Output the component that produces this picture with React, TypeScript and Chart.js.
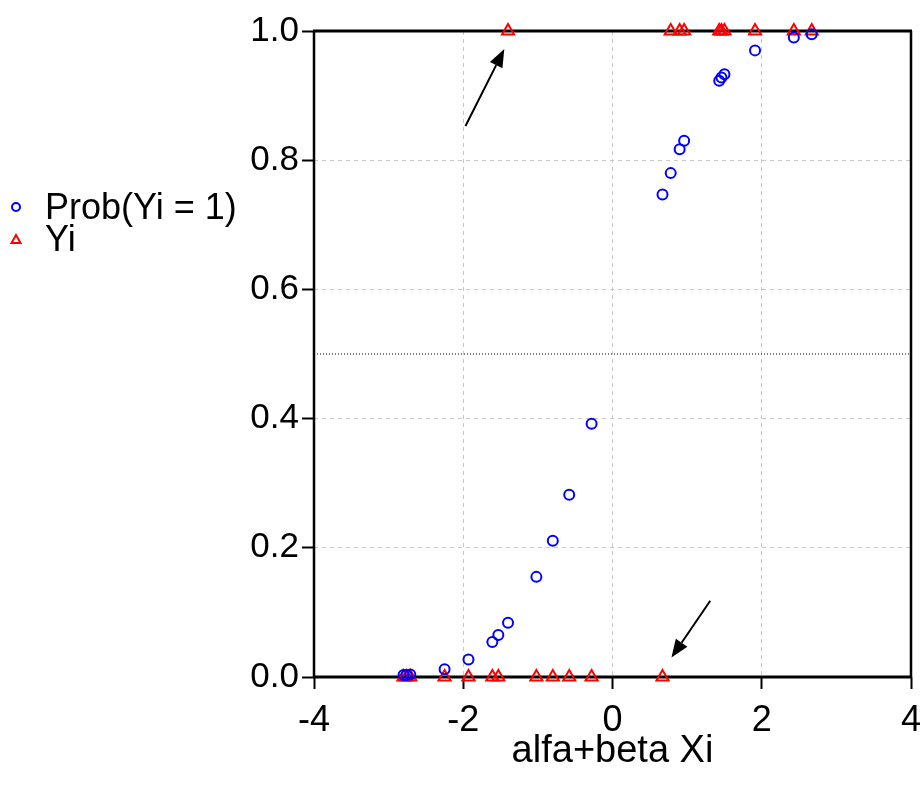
import React, { useEffect, useRef } from 'react';
import { Chart, registerables } from 'chart.js';

Chart.register(...registerables);

// index value alfa+beta Xi for each observation
const xValues = [-2.80, -2.76, -2.71, -2.25, -1.93, -1.61, -1.53, -1.40, -1.02, -0.80, -0.58, -0.28, 0.67, 0.78, 0.90, 0.96, 1.43, 1.46, 1.50, 1.91, 2.43, 2.67];
// fitted probability Prob(Yi = 1)
const probValues = [0.003, 0.003, 0.004, 0.012, 0.027, 0.054, 0.065, 0.084, 0.155, 0.211, 0.282, 0.392, 0.747, 0.780, 0.817, 0.830, 0.923, 0.928, 0.933, 0.970, 0.990, 0.995];
// observed outcome Yi
const yiValues = [0, 0, 0, 0, 0, 0, 0, 1, 0, 0, 0, 0, 0, 1, 1, 1, 1, 1, 1, 1, 1, 1];

const xTicks = [-4, -2, 0, 2, 4];
const yTicks = [0, 0.2, 0.4, 0.6, 0.8, 1.0];
const refLine = 0.5;

const seriesLabels = ['Prob(Yi = 1)', 'Yi'];
const xTitle = 'alfa+beta Xi';

// arrow annotations in data units: [tailX, tailY, tipX, tipY]
const arrowA = [-1.97, 0.853, -1.45, 0.972];
const arrowB = [1.31, 0.118, 0.79, 0.030];

const FONT = '"Liberation Sans", Arial, sans-serif';

export default function App() {
  const ref = useRef<HTMLCanvasElement | null>(null);

  useEffect(() => {
    if (!ref.current) return;

    const frame = {
      id: 'frame',
      beforeDatasetsDraw(chart: any) {
        const { ctx, chartArea: a, scales } = chart;
        ctx.save();
        // dotted reference line
        const yr = scales.y.getPixelForValue(refLine);
        ctx.strokeStyle = '#000';
        ctx.lineWidth = 1;
        ctx.setLineDash([1, 2]);
        ctx.beginPath();
        ctx.moveTo(a.left, yr);
        ctx.lineTo(a.right, yr);
        ctx.stroke();
        ctx.setLineDash([]);
        // box
        ctx.lineWidth = 3;
        ctx.beginPath();
        ctx.moveTo(a.left - 1, a.top);
        ctx.lineTo(a.right + 1, a.top);
        ctx.moveTo(a.left - 1, a.bottom);
        ctx.lineTo(a.right + 1, a.bottom);
        ctx.stroke();
        ctx.lineWidth = 2.5;
        ctx.beginPath();
        ctx.moveTo(a.left, a.top);
        ctx.lineTo(a.left, a.bottom);
        ctx.moveTo(a.right, a.top);
        ctx.lineTo(a.right, a.bottom);
        ctx.stroke();
        ctx.restore();
      },
      afterDatasetsDraw(chart: any) {
        const { ctx, scales } = chart;
        const drawArrow = (arr: number[]) => {
          const x1 = scales.x.getPixelForValue(arr[0]);
          const y1 = scales.y.getPixelForValue(arr[1]);
          const x2 = scales.x.getPixelForValue(arr[2]);
          const y2 = scales.y.getPixelForValue(arr[3]);
          const ang = Math.atan2(y2 - y1, x2 - x1);
          const hl = 18;
          const hw = 7;
          const bx = x2 - Math.cos(ang) * hl;
          const by = y2 - Math.sin(ang) * hl;
          ctx.save();
          ctx.strokeStyle = '#000';
          ctx.fillStyle = '#000';
          ctx.lineWidth = 2;
          ctx.beginPath();
          ctx.moveTo(x1, y1);
          ctx.lineTo(bx, by);
          ctx.stroke();
          ctx.beginPath();
          ctx.moveTo(x2, y2);
          ctx.lineTo(bx + Math.sin(ang) * hw, by - Math.cos(ang) * hw);
          ctx.lineTo(bx - Math.sin(ang) * hw, by + Math.cos(ang) * hw);
          ctx.closePath();
          ctx.fill();
          ctx.restore();
        };
        drawArrow(arrowA);
        drawArrow(arrowB);
      },
      afterDraw(chart: any) {
        const { ctx } = chart;
        ctx.save();
        ctx.font = `36px ${FONT}`;
        ctx.fillStyle = '#000';
        ctx.textBaseline = 'middle';
        ctx.textAlign = 'left';
        // circle symbol
        ctx.lineWidth = 2;
        ctx.strokeStyle = '#0000ff';
        ctx.beginPath();
        ctx.arc(16, 207, 4, 0, Math.PI * 2);
        ctx.stroke();
        ctx.fillText(seriesLabels[0], 45, 209);
        // triangle symbol
        ctx.strokeStyle = '#ff0000';
        ctx.beginPath();
        ctx.moveTo(16, 235);
        ctx.lineTo(20.5, 243);
        ctx.lineTo(11.5, 243);
        ctx.closePath();
        ctx.stroke();
        ctx.fillText(seriesLabels[1], 45, 241);
        ctx.restore();
      },
    };

    const chart = new Chart(ref.current, {
      type: 'scatter',
      data: {
        datasets: [
          {
            label: seriesLabels[0],
            data: xValues.map((x, i) => ({ x, y: probValues[i] })),
            pointStyle: 'circle',
            pointRadius: 5,
            borderColor: '#0000ff',
            backgroundColor: 'rgba(0,0,0,0)',
            pointBorderWidth: 2,
            clip: false as any,
          },
          {
            label: seriesLabels[1],
            data: xValues.map((x, i) => ({ x, y: yiValues[i] })),
            pointStyle: 'triangle',
            pointRadius: 7,
            borderColor: '#ff0000',
            backgroundColor: 'rgba(0,0,0,0)',
            pointBorderWidth: 2,
            clip: false as any,
          },
        ],
      },
      plugins: [frame],
      options: {
        responsive: false,
        animation: false,
        devicePixelRatio: 1,
        layout: { padding: { top: 31, right: 11, left: 0, bottom: 0 } },
        plugins: {
          legend: { display: false },
          tooltip: { enabled: false },
        },
        scales: {
          x: {
            type: 'linear',
            min: xTicks[0],
            max: xTicks[xTicks.length - 1],
            afterBuildTicks: (s: any) => { s.ticks = xTicks.map((v) => ({ value: v })); },
            afterFit: (s: any) => { s.height = 111; s.paddingLeft = 0; s.paddingRight = 0; },
            border: { display: false, dash: [4, 4] },
            grid: {
              color: (c: any) => (c.tick && (c.tick.value === xTicks[0] || c.tick.value === xTicks[xTicks.length - 1]) ? 'rgba(0,0,0,0)' : '#c8c8c8'),
              lineWidth: 1,
              tickColor: '#000',
              tickWidth: 2,
              tickLength: 12,
              tickBorderDash: [],
            },
            ticks: {
              color: '#000',
              font: { family: FONT, size: 36 },
              padding: 10,
              maxRotation: 0,
              callback: (v: any) => String(v),
            },
            title: {
              display: true,
              text: xTitle,
              color: '#000',
              font: { family: FONT, size: 38 },
              padding: { top: 0, bottom: 14 },
            },
          },
          y: {
            type: 'linear',
            min: yTicks[0],
            max: yTicks[yTicks.length - 1],
            afterBuildTicks: (s: any) => { s.ticks = yTicks.map((v) => ({ value: v })); },
            afterFit: (s: any) => { s.width = 314; },
            border: { display: false, dash: [4, 4] },
            grid: {
              color: (c: any) => (c.tick && (c.tick.value === yTicks[0] || c.tick.value === yTicks[yTicks.length - 1]) ? 'rgba(0,0,0,0)' : '#c8c8c8'),
              lineWidth: 1,
              tickColor: '#000',
              tickWidth: 2,
              tickLength: 12,
              tickBorderDash: [],
            },
            ticks: {
              color: '#000',
              font: { family: FONT, size: 35 },
              padding: 3,
              callback: (v: any) => Number(v).toFixed(1),
            },
          },
        },
      },
    });

    return () => chart.destroy();
  }, []);

  return (
    <div style={{ position: 'fixed', left: 0, top: 0, width: 922, height: 788, background: '#fff' }}>
      <canvas ref={ref} width={922} height={788} style={{ display: 'block', width: 922, height: 788 }} />
    </div>
  );
}
